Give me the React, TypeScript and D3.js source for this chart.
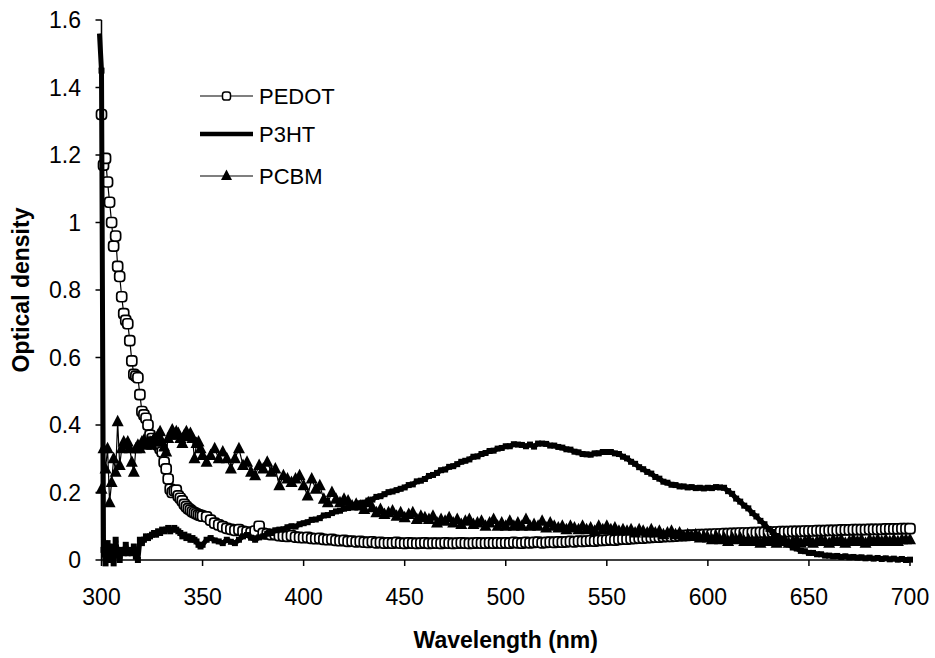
import React from 'react';
import * as d3 from 'd3';

// Wavelength grid (nm): 1 nm steps in the UV, 2 nm steps beyond
const fineWavelengths = d3.range(300, 351, 1);
const coarseWavelengths = d3.range(352, 701, 2);
const wavelengths = [...fineWavelengths, ...coarseWavelengths];

const xTicks = [300, 350, 400, 450, 500, 550, 600, 650, 700];
const yTicks = [0, 0.2, 0.4, 0.6, 0.8, 1, 1.2, 1.4, 1.6];
const seriesNames = ['PEDOT', 'P3HT', 'PCBM'];

// PEDOT
const pedotFine = [
  1.32, 1.17, 1.19, 1.12, 1.06, 1.0, 0.93, 0.96, 0.87, 0.84,
  0.78, 0.73, 0.71, 0.7, 0.65, 0.59, 0.55, 0.545, 0.54, 0.49,
  0.44, 0.43, 0.42, 0.4, 0.37, 0.36, 0.35, 0.345, 0.34, 0.33,
  0.32, 0.29, 0.27, 0.24, 0.21, 0.2, 0.205, 0.207, 0.19, 0.183,
  0.175, 0.165, 0.158, 0.152, 0.148, 0.143, 0.14, 0.137, 0.134, 0.132,
  0.13,
];
const pedotCoarse = [
  0.128, 0.118, 0.109, 0.104, 0.099, 0.094, 0.091, 0.088, 0.09, 0.085,
  0.083, 0.081, 0.086, 0.1, 0.079, 0.077, 0.075, 0.076, 0.072, 0.071,
  0.07, 0.072, 0.068, 0.067, 0.066, 0.067, 0.064, 0.063, 0.064, 0.061,
  0.06, 0.061, 0.058, 0.057, 0.058, 0.055, 0.056, 0.054, 0.055, 0.053,
  0.052, 0.054, 0.051, 0.052, 0.05, 0.051, 0.05, 0.052, 0.05, 0.049,
  0.051, 0.05, 0.049, 0.05, 0.051, 0.049, 0.05, 0.05, 0.049, 0.051,
  0.05, 0.049, 0.05, 0.051, 0.05, 0.049, 0.05, 0.051, 0.05, 0.05,
  0.051, 0.05, 0.051, 0.05, 0.051, 0.05, 0.052, 0.051, 0.05, 0.052,
  0.051, 0.052, 0.053, 0.051, 0.052, 0.053, 0.052, 0.054, 0.053, 0.054,
  0.055, 0.054, 0.056, 0.055, 0.056, 0.057, 0.056, 0.058, 0.058, 0.059,
  0.06, 0.059, 0.061, 0.062, 0.062, 0.063, 0.064, 0.065, 0.065, 0.066,
  0.067, 0.068, 0.068, 0.069, 0.07, 0.07, 0.071, 0.072, 0.072, 0.073,
  0.074, 0.074, 0.075, 0.075, 0.076, 0.076, 0.077, 0.077, 0.078, 0.078,
  0.079, 0.079, 0.08, 0.08, 0.08, 0.081, 0.081, 0.082, 0.082, 0.082,
  0.083, 0.083, 0.084, 0.084, 0.084, 0.085, 0.085, 0.085, 0.086, 0.086,
  0.086, 0.087, 0.087, 0.087, 0.088, 0.088, 0.088, 0.089, 0.089, 0.089,
  0.09, 0.09, 0.09, 0.09, 0.091, 0.091, 0.091, 0.091, 0.092, 0.092,
  0.092, 0.092, 0.093, 0.093, 0.093,
];

// P3HT (with the spike recorded just before 300 nm)
const p3htLeadWavelengths = [299];
const p3htLead = [1.56];
const p3htFine = [
  1.45, 0.03, -0.01, 0.05, 0.0, 0.04, -0.01, 0.06, 0.02, 0.0,
  0.03, 0.02, 0.045, 0.02, 0.03, 0.02, 0.04, 0.01, 0.0, 0.06,
  0.05, 0.06, 0.07, 0.065, 0.07, 0.075, 0.08, 0.075, 0.085, 0.08,
  0.09, 0.085, 0.09, 0.095, 0.085, 0.09, 0.095, 0.09, 0.085, 0.08,
  0.07, 0.075, 0.065, 0.07, 0.06, 0.065, 0.06, 0.055, 0.045, 0.04,
  0.045,
];
const p3htCoarse = [
  0.06, 0.065, 0.058, 0.055, 0.05, 0.06, 0.054, 0.05, 0.06, 0.07,
  0.074, 0.066, 0.06, 0.067, 0.07, 0.078, 0.08, 0.088, 0.09, 0.091,
  0.097, 0.1, 0.099, 0.106, 0.109, 0.112, 0.119, 0.12, 0.124, 0.132,
  0.133, 0.139, 0.144, 0.146, 0.152, 0.154, 0.161, 0.162, 0.168, 0.17,
  0.176, 0.179, 0.187, 0.189, 0.195, 0.201, 0.203, 0.207, 0.211, 0.215,
  0.222, 0.224, 0.233, 0.235, 0.24, 0.249, 0.252, 0.258, 0.266, 0.268,
  0.276, 0.278, 0.284, 0.291, 0.294, 0.298, 0.306, 0.307, 0.314, 0.317,
  0.323, 0.324, 0.33, 0.332, 0.337, 0.337, 0.343, 0.342, 0.341, 0.337,
  0.342, 0.336, 0.345, 0.345, 0.344, 0.339, 0.339, 0.335, 0.333, 0.328,
  0.327, 0.321, 0.319, 0.314, 0.313, 0.312, 0.316, 0.316, 0.32, 0.32,
  0.32, 0.316, 0.314, 0.306, 0.301, 0.291, 0.285, 0.275, 0.269, 0.261,
  0.256, 0.246, 0.241, 0.232, 0.229, 0.223, 0.222, 0.218, 0.218, 0.215,
  0.216, 0.213, 0.214, 0.212, 0.214, 0.213, 0.216, 0.215, 0.214, 0.204,
  0.196, 0.182, 0.173, 0.161, 0.153, 0.139, 0.129, 0.116, 0.106, 0.092,
  0.083, 0.071, 0.063, 0.052, 0.046, 0.037, 0.034, 0.027, 0.026, 0.021,
  0.021, 0.017, 0.017, 0.013, 0.013, 0.011, 0.012, 0.009, 0.011, 0.008,
  0.009, 0.007, 0.008, 0.005, 0.007, 0.004, 0.006, 0.003, 0.005, 0.002,
  0.004, 0.001, 0.003, 0.0, 0.001,
];

// PCBM
const pcbmFine = [
  0.21, 0.33, 0.27, 0.33, 0.17, 0.23, 0.3, 0.26, 0.41, 0.28,
  0.33, 0.35, 0.34, 0.35, 0.33, 0.29, 0.26, 0.33, 0.34, 0.33,
  0.35, 0.355, 0.34, 0.35, 0.35, 0.34, 0.36, 0.35, 0.37, 0.38,
  0.35, 0.335, 0.32, 0.36, 0.37, 0.385, 0.37, 0.38, 0.375, 0.36,
  0.345, 0.37, 0.38, 0.365, 0.375, 0.36, 0.3, 0.345, 0.35, 0.33,
  0.31,
];
const pcbmCoarse = [
  0.29, 0.31, 0.33, 0.3, 0.32, 0.3, 0.27, 0.3, 0.33, 0.28,
  0.29, 0.26, 0.25, 0.28, 0.27, 0.29, 0.26, 0.27, 0.22, 0.25,
  0.24, 0.23, 0.24, 0.25, 0.22, 0.19, 0.24, 0.21, 0.22, 0.18,
  0.17, 0.2, 0.18, 0.17, 0.18, 0.175, 0.16, 0.165, 0.16, 0.15,
  0.17, 0.155, 0.14, 0.15, 0.135, 0.14, 0.145, 0.13, 0.14, 0.125,
  0.135, 0.14, 0.12, 0.13, 0.125, 0.12, 0.13, 0.11, 0.12, 0.115,
  0.125, 0.11, 0.12, 0.105, 0.115, 0.12, 0.105, 0.11, 0.115, 0.1,
  0.11, 0.12, 0.1, 0.11, 0.1, 0.115, 0.1, 0.11, 0.1, 0.12,
  0.1, 0.105, 0.1, 0.115, 0.095, 0.11, 0.1, 0.095, 0.1, 0.09,
  0.1, 0.095, 0.09, 0.1, 0.09, 0.095, 0.085, 0.1, 0.09, 0.1,
  0.09, 0.095, 0.085, 0.09, 0.085, 0.09, 0.08, 0.09, 0.085, 0.08,
  0.09, 0.08, 0.085, 0.075, 0.08, 0.085, 0.075, 0.08, 0.07, 0.075,
  0.07, 0.075, 0.065, 0.07, 0.065, 0.06, 0.07, 0.06, 0.065, 0.055,
  0.065, 0.06, 0.065, 0.055, 0.06, 0.055, 0.06, 0.05, 0.06, 0.055,
  0.06, 0.05, 0.055, 0.06, 0.05, 0.055, 0.06, 0.05, 0.055, 0.06,
  0.05, 0.055, 0.06, 0.055, 0.05, 0.06, 0.055, 0.06, 0.05, 0.055,
  0.06, 0.055, 0.06, 0.05, 0.06, 0.055, 0.06, 0.055, 0.06, 0.055,
  0.06, 0.055, 0.06, 0.06, 0.06,
];

const pedotValues = [...pedotFine, ...pedotCoarse];
const p3htValues = [...p3htFine, ...p3htCoarse];
const pcbmValues = [...pcbmFine, ...pcbmCoarse];

type Pt = { x: number; y: number };
const toPoints = (xs: number[], ys: number[]): Pt[] =>
  xs.slice(0, Math.min(xs.length, ys.length)).map((x, i) => ({ x, y: ys[i] }));

const W = 935;
const H = 658;
const FONT = "'Liberation Sans', Arial, Helvetica, sans-serif";

export default function App() {
  const x = d3.scaleLinear().domain([300, 700]).range([101.5, 910]);
  const y = d3.scaleLinear().domain([0, 1.6]).range([560, 20]);

  const pedot = toPoints(wavelengths, pedotValues);
  const p3ht = [...toPoints(p3htLeadWavelengths, p3htLead), ...toPoints(wavelengths, p3htValues)];
  const p3htMarkers = toPoints(wavelengths, p3htValues);
  const pcbm = toPoints(wavelengths, pcbmValues);

  const line = d3
    .line<Pt>()
    .x((d) => x(d.x))
    .y((d) => y(d.y));

  const tri = 'M0,-7 L6,4.5 L-6,4.5 Z';
  const legendTri = 'M0,-6.5 L5.5,4 L-5.5,4 Z';
  const sq = 10;

  const legendX0 = 200;
  const legendX1 = 253;
  const legendYs = [96, 134, 176];

  return (
    <svg
      width={W}
      height={H}
      style={{ position: 'absolute', left: 0, top: 0, background: '#fff' }}
      fontFamily={FONT}
    >
      <rect x={0} y={0} width={W} height={H} fill="#fff" />

      {/* PEDOT */}
      <path d={line(pedot) || ''} fill="none" stroke="#000" strokeWidth={1.2} />
      {pedot.map((d, i) => (
        <rect
          key={'pe' + i}
          x={x(d.x) - sq / 2}
          y={y(d.y) - sq / 2}
          width={sq}
          height={sq}
          rx={3.2}
          fill="#fff"
          stroke="#000"
          strokeWidth={1.7}
        />
      ))}

      {/* P3HT */}
      <path d={line(p3ht) || ''} fill="none" stroke="#000" strokeWidth={5} strokeLinejoin="round" />
      {p3htMarkers.map((d, i) => (
        <rect key={'p3' + i} x={x(d.x) - 3} y={y(d.y) - 3} width={6} height={6} fill="#000" />
      ))}

      {/* PCBM */}
      <path d={line(pcbm) || ''} fill="none" stroke="#000" strokeWidth={1.2} />
      {pcbm.map((d, i) => (
        <path key={'pc' + i} d={tri} transform={`translate(${x(d.x)},${y(d.y)})`} fill="#000" />
      ))}

      {/* Axes */}
      <line x1={x(300)} x2={x(300)} y1={y(1.6)} y2={y(0)} stroke="#000" strokeWidth={1.5} />
      <line x1={x(300)} x2={x(700)} y1={y(0)} y2={y(0)} stroke="#000" strokeWidth={1.5} />
      {yTicks.map((t) => (
        <g key={'yt' + t}>
          <line x1={x(300) - 6} x2={x(300)} y1={y(t)} y2={y(t)} stroke="#000" strokeWidth={1.5} />
          <text x={81} y={y(t)} dy="0.36em" textAnchor="end" fontSize={23} fill="#000">
            {String(+t.toFixed(1))}
          </text>
        </g>
      ))}
      {xTicks.map((t) => (
        <g key={'xt' + t}>
          <line x1={x(t)} x2={x(t)} y1={y(0)} y2={y(0) + 6} stroke="#000" strokeWidth={1.5} />
          <text x={x(t)} y={605} textAnchor="middle" fontSize={23} fill="#000">
            {t}
          </text>
        </g>
      ))}

      {/* Axis titles */}
      <text x={(x(300) + x(700)) / 2} y={648} textAnchor="middle" fontSize={23} fontWeight="bold" fill="#000">
        Wavelength (nm)
      </text>
      <text
        transform={`translate(29,${(y(0) + y(1.6)) / 2}) rotate(-90)`}
        textAnchor="middle"
        fontSize={23}
        fontWeight="bold"
        fill="#000"
      >
        Optical density
      </text>

      {/* Legend */}
      <g>
        <line x1={legendX0} x2={legendX1} y1={legendYs[0]} y2={legendYs[0]} stroke="#000" strokeWidth={1.2} />
        <rect
          x={(legendX0 + legendX1) / 2 - 4}
          y={legendYs[0] - 4}
          width={8}
          height={8}
          rx={2.6}
          fill="#fff"
          stroke="#000"
          strokeWidth={1.5}
        />
        <text x={259} y={legendYs[0]} dy="0.36em" fontSize={22} fill="#000">
          {seriesNames[0]}
        </text>

        <line x1={legendX0} x2={legendX1} y1={legendYs[1]} y2={legendYs[1]} stroke="#000" strokeWidth={4.5} />
        <text x={259} y={legendYs[1]} dy="0.36em" fontSize={22} fill="#000">
          {seriesNames[1]}
        </text>

        <line x1={legendX0} x2={legendX1} y1={legendYs[2]} y2={legendYs[2]} stroke="#000" strokeWidth={1.2} />
        <path d={legendTri} transform={`translate(${(legendX0 + legendX1) / 2},${legendYs[2]})`} fill="#000" />
        <text x={259} y={legendYs[2]} dy="0.36em" fontSize={22} fill="#000">
          {seriesNames[2]}
        </text>
      </g>
    </svg>
  );
}
